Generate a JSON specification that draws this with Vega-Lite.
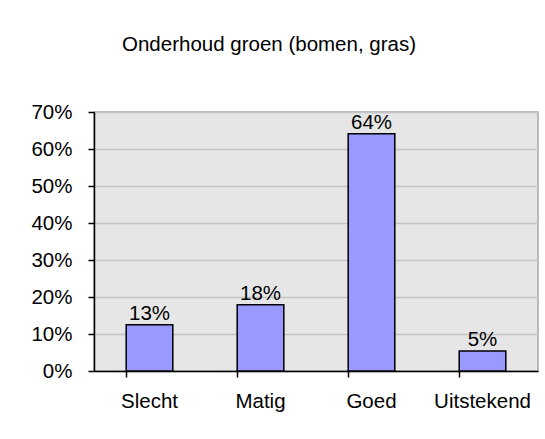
{
  "$schema": "https://vega.github.io/schema/vega-lite/v6.json",
  "width": 444,
  "height": 259,
  "autosize": {"type": "none"},
  "padding": {"left": 94, "top": 112, "right": 7, "bottom": 68},
  "background": "white",
  "title": {
    "text": "Onderhoud groen (bomen, gras)",
    "font": "Liberation Sans",
    "fontSize": 20.5,
    "fontWeight": "normal",
    "color": "black",
    "anchor": "middle",
    "dx": -47,
    "offset": 47
  },
  "data": {
    "values": [
      {"categorie": "Slecht", "aandeel": 0.125, "label": "13%"},
      {"categorie": "Matig", "aandeel": 0.179, "label": "18%"},
      {"categorie": "Goed", "aandeel": 0.641, "label": "64%"},
      {"categorie": "Uitstekend", "aandeel": 0.054, "label": "5%"}
    ]
  },
  "encoding": {
    "x": {
      "field": "categorie",
      "type": "nominal",
      "sort": null,
      "scale": {"paddingInner": 0.58, "paddingOuter": 0.29},
      "axis": {
        "title": null,
        "labelAngle": 0,
        "bandPosition": 0,
        "domainColor": "black",
        "domainWidth": 1.5,
        "tickColor": "black",
        "tickWidth": 1.5,
        "tickSize": 6,
        "labelPadding": 14,
        "labelFont": "Liberation Sans",
        "labelFontSize": 20.5,
        "labelColor": "black"
      }
    },
    "y": {
      "field": "aandeel",
      "type": "quantitative",
      "scale": {"domain": [0, 0.7], "nice": false},
      "axis": {
        "title": null,
        "format": ".0%",
        "values": [0, 0.1, 0.2, 0.3, 0.4, 0.5, 0.6, 0.7],
        "domainColor": "black",
        "domainWidth": 1.5,
        "tickColor": "black",
        "tickWidth": 1.5,
        "tickSize": 6,
        "labelPadding": 16,
        "labelFont": "Liberation Sans",
        "labelFontSize": 20.5,
        "labelColor": "black",
        "grid": true,
        "gridColor": "#c4c4c4",
        "gridWidth": 1.5
      }
    }
  },
  "layer": [
    {
      "mark": {"type": "bar", "fill": "#9999ff", "stroke": "black", "strokeWidth": 1.5}
    },
    {
      "mark": {"type": "text", "baseline": "bottom", "dy": -1, "font": "Liberation Sans", "fontSize": 20.5, "color": "black"},
      "encoding": {"text": {"field": "label"}}
    }
  ],
  "config": {
    "view": {"fill": "#e6e6e6", "stroke": "#a8a8a8", "strokeWidth": 1.5}
  }
}
